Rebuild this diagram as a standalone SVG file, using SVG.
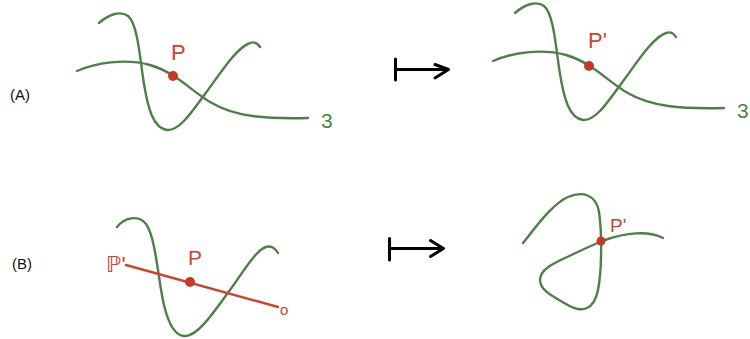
<svg xmlns="http://www.w3.org/2000/svg" width="750" height="339" viewBox="0 0 750 339">
<style>
.g{fill:none;stroke:#4f7f48;stroke-width:2.4;stroke-linecap:round;stroke-linejoin:round}
.r{fill:none;stroke:#cc4330;stroke-width:2.4;stroke-linecap:round}
.dot{fill:#c43a28}
.arr{fill:none;stroke:#000;stroke-width:3;stroke-linecap:round;stroke-linejoin:round}
.lbl{font-family:"Liberation Sans",Arial,sans-serif;font-size:15px;fill:#111}
.rt{font-family:"Liberation Sans","DejaVu Sans",sans-serif;fill:#cc4330}
.gt{font-family:"Liberation Sans",sans-serif;fill:#4f7f48}
</style>
<defs>
<path id="a1" d="M99,23 C108,15 120,10 128,16 C138,24 140,60 144,84 C148,108 153,128 167,130 C180,131 193,110 205,94 C220,74 236,48 250,43 C255,41 258,44 260,47"/>
<path id="a2" d="M77,71 C95,63 125,58 150,65 C175,72 190,90 210,102 C235,117 265,119 308,118"/>
</defs>
<g id="labelA"><text class="lbl" x="10" y="100">(A)</text></g>
<g id="labelB"><text class="lbl" x="12" y="269">(B)</text></g>
<g id="A-left">
<use href="#a1" class="g"/>
<use href="#a2" class="g"/>
<circle class="dot" cx="173" cy="76" r="5"/>
<text class="rt" x="171" y="60" font-size="22">P</text>
<text class="gt" x="321" y="128" font-size="21">3</text>
</g>
<g id="A-right" >
<use href="#a1" class="g" transform="translate(416,-10)"/>
<use href="#a2" class="g" transform="translate(416,-10)"/>
<circle class="dot" cx="589" cy="66" r="5"/>
<text class="rt" x="588" y="48" font-size="22">P'</text>
<text class="gt" x="737" y="118" font-size="21">3</text>
</g>
<g id="B-left">
<path class="g" d="M117,227 C124,218 138,214 146,224 C156,238 158,280 164,305 C169,326 176,337 186,336 C200,334 215,310 230,290 C243,272 256,250 266,247 C271,245 276,249 278,253"/>
<path class="r" d="M126,265 L278,307"/>
<circle class="dot" cx="190" cy="282" r="5"/>
<text class="rt" x="188" y="265" font-size="21">P</text>
<text class="rt" x="106" y="272" font-size="22">ℙ'</text>
<text class="rt" x="280" y="315" font-size="15">o</text>
</g>
<g id="B-right">
<path class="g" d="M523,243 C535,228 552,204 568,197 C582,191 596,194 599,212 C602,232 602,270 598,290 C594,310 582,314 566,304 C552,296 540,290 540,280 C540,270 552,264 565,258 C580,251 592,245 605,240 C625,233 648,230 663,238"/>
<circle class="dot" cx="601" cy="241" r="4.5"/>
<text class="rt" x="610" y="232" font-size="19">P'</text>
</g>
<g id="connectors">
<path class="arr" d="M395.5,59 V80 M395.5,69.5 H448 M435,64.5 L448.5,69.5 L435,78"/>
<path class="arr" d="M389.5,238.5 V260 M389.5,248.5 H443 M430.5,240.5 L443.5,248.5 L430.5,256.5"/>
</g>
</svg>
